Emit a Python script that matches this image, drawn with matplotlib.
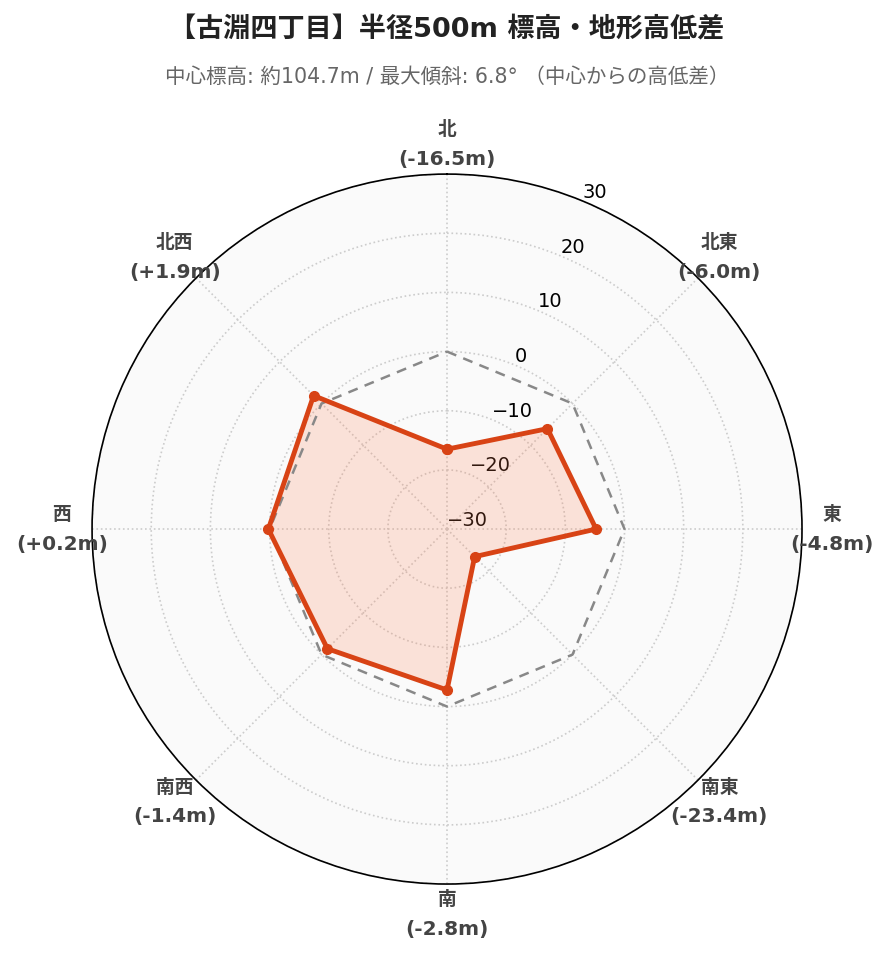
import numpy as np
import matplotlib.pyplot as plt

plt.rcParams['font.family'] = ['DejaVu Sans', 'Noto Sans CJK JP']

# data
directions = ['北', '北東', '東', '南東', '南', '南西', '西', '北西']
diffs = [-16.5, -6.0, -4.8, -23.4, -2.8, -1.4, 0.2, 1.9]
r_ticks = [-30, -20, -10, 0, 10, 20, 30]

title = '【古淵四丁目】半径500m 標高・地形高低差'
subtitle = '中心標高: 約104.7m / 最大傾斜: 6.8° （中心からの高低差）'

angles = np.deg2rad(np.arange(len(directions)) * 45.0)
ang_closed = np.append(angles, angles[0])
val_closed = np.append(diffs, diffs[0])

fig = plt.figure(figsize=(8.89, 9.62), dpi=100)
ax = fig.add_axes([0.1035, 0.08, 0.7987, 0.738], projection='polar')
ax.set_theta_zero_location('N')
ax.set_theta_direction(-1)
ax.set_facecolor('#fafafa')
ax.set_ylim(-30, 30)

# zero reference line
ax.plot(ang_closed, np.zeros(len(ang_closed)), color='#888888', linestyle='--',
        linewidth=1.8, dashes=(4, 3), zorder=3)

# data
ax.fill(ang_closed, val_closed, color='#ff7f50', alpha=0.2, zorder=2, linewidth=0)
ax.plot(ang_closed, val_closed, color='#d84315', linewidth=3.5, marker='o',
        markersize=7, zorder=4)

ax.set_xticks(angles)
ax.set_xticklabels([])
ax.set_yticks(r_ticks)
ax.set_yticklabels(['\u2212' + str(abs(t)) if t < 0 else str(t) for t in r_ticks],
                   fontsize=14, color='black')
ax.set_rlabel_position(22.5)
ax.grid(True, color='#cccccc', linestyle=':', linewidth=1.2)
ax.spines['polar'].set_color('black')
ax.spines['polar'].set_linewidth(1.2)

# direction labels: name line + value line
for a, d, v in zip(angles, directions, diffs):
    val = f'({v:+.1f}m)'.replace('+-', '-')
    ax.annotate(d, xy=(a, 35.1), xytext=(0, 11), textcoords='offset points',
                ha='center', va='center', fontsize=13.5, fontweight='bold',
                color='#444444', family='Noto Sans CJK JP', annotation_clip=False)
    ax.annotate(val, xy=(a, 35.1), xytext=(0, -10.5), textcoords='offset points',
                ha='center', va='center', fontsize=14.5, fontweight='bold',
                color='#444444', annotation_clip=False)

fig.text(0.503, 0.968, title, ha='center', va='center', fontsize=19.5,
         fontweight='bold', color='#222222')
fig.text(0.503, 0.920, subtitle, ha='center', va='center', fontsize=14.8,
         color='#666666')

plt.savefig('out.png', dpi=100)
